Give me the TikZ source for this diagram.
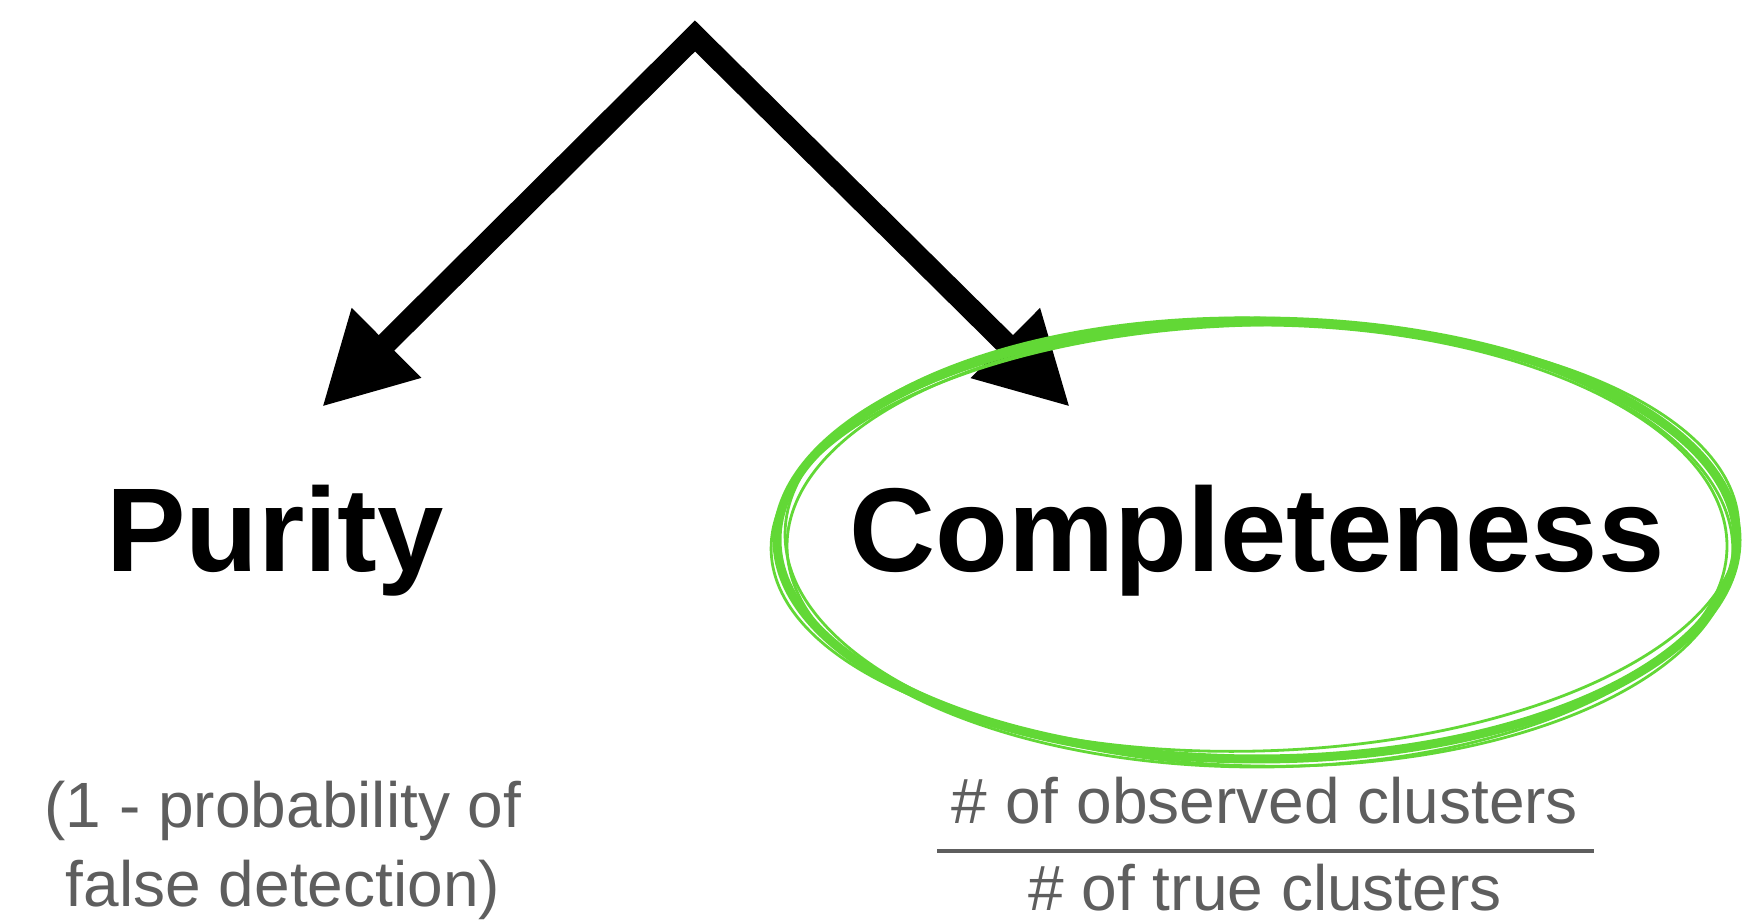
\documentclass[tikz,border=0pt]{standalone}
\usepackage{fontspec}
\setmainfont{Liberation Sans}
\usepackage{xcolor}
\usepackage{tikz}
\usetikzlibrary{arrows.meta,positioning,calc}
\definecolor{LeafGreen}{HTML}{62D836}
\definecolor{TextGray}{HTML}{5E5E5E}
\tikzset{
  headline/.style={font=\fontsize{59.6}{70}\selectfont\bfseries,inner sep=0pt,anchor=base},
  note/.style={font=\fontsize{32}{39}\selectfont,text=TextGray,inner sep=0pt,align=center},
  flow/.style={{Triangle[length=45.5pt,width=46pt]}-{Triangle[length=45.5pt,width=46pt]},
               line width=11pt,miter limit=10},
  ring/.style={draw=LeafGreen,line width=4.5pt},
  thinring/.style={draw=LeafGreen,line width=1.4pt},
  bar/.style={draw=TextGray,line width=2.3pt}
}
\begin{document}
\begin{tikzpicture}[x=0.5pt,y=0.5pt]
  \useasboundingbox (0,0) rectangle (1742,922);
  % split point and arrow ends
  \coordinate (top) at (695,886);
  \coordinate (pTip) at (322,515);
  \coordinate (cTip) at (1070,515);

  \node[headline] (purity) at (275,350) {Purity};
  \node[headline] (complete) at (1257,350) {Completeness};

  \node[note,anchor=base] (purityNote) at (283,16) {(1 - probability of\\false detection)};

  \node[note,anchor=base] (observed) at (1265,98) {\# of observed clusters};
  \node[note,anchor=base] (truecl) at (1265,11) {\# of true clusters};
  \coordinate (barL) at (937,71);
  \coordinate (barR) at (1594,71);

  \draw[flow] (pTip) -- (top) -- (cTip);
  \draw[bar] (barL) -- (barR);

  % hand drawn ring
  \draw[ring] (1257,382) ellipse [x radius=480,y radius=219];
  \draw[thinring,rotate around={1.5:(1257,382)}] (1255,384) ellipse [x radius=484,y radius=213];
  \draw[thinring,rotate around={-1.2:(1257,382)}] (1259,380) ellipse [x radius=474,y radius=224];
  \draw[thinring] (1257,376) ellipse [x radius=470,y radius=221];
\end{tikzpicture}
\end{document}
